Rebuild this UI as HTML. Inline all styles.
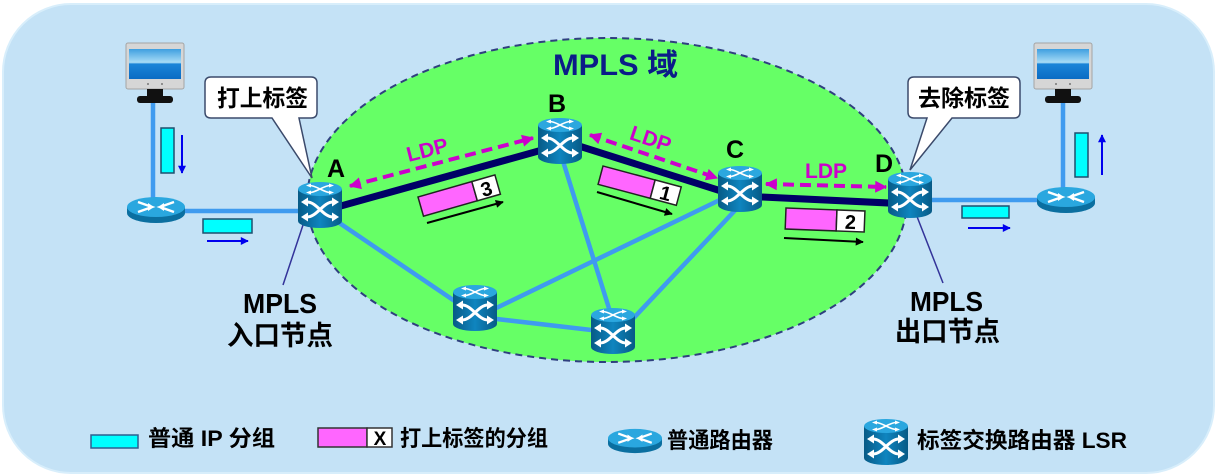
<!DOCTYPE html>
<html><head><meta charset="utf-8"><style>
html,body{margin:0;padding:0;background:#fff;}
svg{display:block;}
text{font-family:"Liberation Sans","Noto Sans CJK SC",sans-serif;font-weight:bold;}
</style></head><body>
<svg width="1217" height="476" viewBox="0 0 1217 476" xmlns="http://www.w3.org/2000/svg">
<defs>
 <linearGradient id="gb" x1="0" x2="1" y1="0" y2="0">
  <stop offset="0" stop-color="#075a86"/><stop offset="0.5" stop-color="#0f85bf"/><stop offset="1" stop-color="#075a86"/>
 </linearGradient>
 <linearGradient id="scr" x1="0" x2="0" y1="0" y2="1">
  <stop offset="0" stop-color="#3f9fe0"/><stop offset="0.45" stop-color="#a8dcf6"/><stop offset="0.5" stop-color="#1a84d8"/><stop offset="1" stop-color="#0b6cc4"/>
 </linearGradient>
 <marker id="mg" viewBox="0 0 10 10" refX="9" refY="5" markerWidth="13" markerHeight="12" markerUnits="userSpaceOnUse" orient="auto-start-reverse"><path d="M0,0 L10,5 L0,10 z" fill="#cc00cc"/></marker>
 <marker id="mb" viewBox="0 0 10 10" refX="9" refY="5" markerWidth="10" markerHeight="8" markerUnits="userSpaceOnUse" orient="auto"><path d="M0,0 L10,5 L0,10 z" fill="#0000ee"/></marker>
 <marker id="mk" viewBox="0 0 10 10" refX="9" refY="5" markerWidth="11" markerHeight="8" markerUnits="userSpaceOnUse" orient="auto"><path d="M0,0 L10,5 L0,10 z" fill="#000"/></marker>
 <symbol id="lsr" viewBox="0 0 44 46">
  <path d="M0,7 V39 A22,7 0 0 0 44,39 V7 Z" fill="url(#gb)"/>
  <ellipse cx="22" cy="7" rx="22" ry="7" fill="#2ba7df"/>
  <path d="M12,3.5 C18,3.5 26,10.5 32,10.5 M12,10.5 C18,10.5 26,3.5 32,3.5" stroke="#fff" stroke-width="1.6" fill="none"/>
  <path d="M8,3.5 L13,1.5 L13,5.5 Z M36,3.5 L31,1.5 L31,5.5 Z M8,10.5 L13,8.5 L13,12.5 Z M36,10.5 L31,8.5 L31,12.5 Z" fill="#fff"/>
  <path d="M9,20 C19,20 25,35 35,35 M9,35 C19,35 25,20 35,20" stroke="#fff" stroke-width="3" fill="none"/>
  <path d="M3,20 L10,15.5 L10,24.5 Z M41,20 L34,15.5 L34,24.5 Z M3,35 L10,30.5 L10,39.5 Z M41,35 L34,30.5 L34,39.5 Z" fill="#fff"/>
 </symbol>
 <symbol id="rt" viewBox="0 0 58 26">
  <path d="M0,10 V16 A29,10 0 0 0 58,16 V10 Z" fill="#0b6fa0"/>
  <ellipse cx="29" cy="10" rx="29" ry="10" fill="#2aa7df"/>
  <path d="M11,5 L25,10 L11,15 M47,5 L33,10 L47,15" stroke="#fff" stroke-width="2.4" fill="none"/>
  <path d="M27,10 L21,6 L21,14 Z M31,10 L37,6 L37,14 Z" fill="#fff"/>
 </symbol>
 <g id="pc">
  <rect x="0" y="0" width="58" height="46" rx="2" fill="#d6d6d6" stroke="#a4a4a4"/>
  <rect x="3" y="6" width="52" height="30" fill="url(#scr)"/>
  <circle cx="22" cy="41" r="1" fill="#777"/><circle cx="36" cy="41" r="1" fill="#777"/>
  <rect x="21" y="46" width="16" height="8" fill="#111"/>
  <rect x="11" y="53" width="36" height="7" rx="3" fill="#111"/>
 </g>
</defs>

<rect x="3" y="4" width="1211" height="469" rx="68" fill="#c4e2f6" stroke="#d8eefb" stroke-width="2"/>

<ellipse cx="607" cy="200" rx="300" ry="162" fill="#66ff66" stroke="#2f3f7f" stroke-width="2" stroke-dasharray="7,5"/>

<g stroke="#3f9bef" stroke-width="4.5" fill="none">
 <line x1="153" y1="100" x2="153" y2="200"/>
 <line x1="180" y1="211" x2="302" y2="211"/>
 <line x1="335" y1="220" x2="462" y2="306"/>
 <line x1="562" y1="158" x2="612" y2="318"/>
 <line x1="728" y1="196" x2="488" y2="312"/>
 <line x1="742" y1="203" x2="628" y2="324"/>
 <line x1="488" y1="318" x2="600" y2="331"/>
 <line x1="928" y1="200" x2="1042" y2="200"/>
 <line x1="1063" y1="100" x2="1063" y2="192"/>
</g>

<g stroke="#000066" stroke-width="7" fill="none" stroke-linecap="round">
 <line x1="330" y1="209" x2="560" y2="145"/>
 <line x1="560" y1="140" x2="740" y2="197"/>
 <line x1="740" y1="196" x2="910" y2="204"/>
</g>

<g stroke="#333399" stroke-width="1.5">
 <line x1="304" y1="222" x2="283" y2="285"/>
 <line x1="916" y1="214" x2="943" y2="283"/>
</g>

<use href="#lsr" x="298" y="182" width="44" height="46"/>
<use href="#lsr" x="538" y="118" width="44" height="46"/>
<use href="#lsr" x="718" y="166" width="44" height="46"/>
<use href="#lsr" x="888" y="172" width="44" height="46"/>
<use href="#lsr" x="453" y="285" width="44" height="46"/>
<use href="#lsr" x="591" y="308" width="44" height="46"/>
<use href="#rt" x="127" y="197" width="58" height="26"/>
<use href="#rt" x="1037" y="187" width="58" height="26"/>

<use href="#pc" x="126" y="43"/>
<use href="#pc" x="1034" y="43"/>

<g stroke="#cc00cc" stroke-width="4" stroke-dasharray="11,6" fill="none">
 <line x1="350" y1="186" x2="533" y2="138" marker-start="url(#mg)" marker-end="url(#mg)"/>
 <line x1="590" y1="135" x2="717" y2="178" marker-start="url(#mg)" marker-end="url(#mg)"/>
 <line x1="766" y1="184" x2="886" y2="187" marker-start="url(#mg)" marker-end="url(#mg)"/>
</g>
<g fill="#cc00cc" font-size="21" text-anchor="middle">
 <text transform="translate(427,149) rotate(-14.4)" x="0" y="8" textLength="42" lengthAdjust="spacingAndGlyphs">LDP</text>
 <text transform="translate(651,138) rotate(18.7)" x="0" y="8" textLength="42" lengthAdjust="spacingAndGlyphs">LDP</text>
 <text x="826" y="178" textLength="42" lengthAdjust="spacingAndGlyphs">LDP</text>
</g>

<g transform="translate(418,197) rotate(-16)" stroke="#222" stroke-width="1.5">
 <rect x="0" y="0" width="56" height="20" fill="#ff66ff"/>
 <rect x="56" y="0" width="24" height="20" fill="#fff"/>
 <text x="68" y="18" font-size="20" text-anchor="middle" fill="#000" stroke="none">3</text>
</g>
<line x1="427" y1="223" x2="503" y2="202" stroke="#000" stroke-width="2" marker-end="url(#mk)"/>
<g transform="translate(603,166) rotate(15)" stroke="#222" stroke-width="1.5">
 <rect x="0" y="0" width="54" height="19" fill="#ff66ff"/>
 <rect x="54" y="0" width="27" height="19" fill="#fff"/>
 <text x="67.5" y="17" font-size="20" text-anchor="middle" fill="#000" stroke="none">1</text>
</g>
<line x1="597" y1="192" x2="672" y2="214" stroke="#000" stroke-width="2" marker-end="url(#mk)"/>
<g transform="translate(786,208) rotate(2.2)" stroke="#222" stroke-width="1.5">
 <rect x="0" y="0" width="51" height="21" fill="#ff66ff"/>
 <rect x="51" y="0" width="28" height="21" fill="#fff"/>
 <text x="65" y="18.5" font-size="20" text-anchor="middle" fill="#000" stroke="none">2</text>
</g>
<line x1="784" y1="238" x2="863" y2="242" stroke="#000" stroke-width="2" marker-end="url(#mk)"/>

<g fill="#00ffff" stroke="#1f4f6f" stroke-width="1.5">
 <rect x="161" y="128" width="13" height="45"/>
 <rect x="203" y="219" width="49" height="14"/>
 <rect x="962" y="206" width="47" height="12"/>
 <rect x="1075" y="133" width="13" height="44"/>
</g>
<g stroke="#0000ee" stroke-width="2">
 <line x1="182" y1="135" x2="182" y2="173" marker-end="url(#mb)"/>
 <line x1="207" y1="241" x2="248" y2="241" marker-end="url(#mb)"/>
 <line x1="968" y1="228" x2="1010" y2="228" marker-end="url(#mb)"/>
 <line x1="1102" y1="175" x2="1102" y2="135" marker-end="url(#mb)"/>
</g>

<path d="M211,77 H311 Q317,77 317,83 V112 Q317,118 311,118 H299 L312,178 L272,118 H211 Q205,118 205,112 V83 Q205,77 211,77 Z" fill="#fff" stroke="#3b4a6b" stroke-width="1.5"/>
<path d="M914,77 H1014 Q1020,77 1020,83 V112 Q1020,118 1014,118 H952 L910,170 L927,118 H914 Q908,118 908,112 V83 Q908,77 914,77 Z" fill="#fff" stroke="#3b4a6b" stroke-width="1.5"/>
<text x="217" y="106" font-size="23" textLength="91" lengthAdjust="spacingAndGlyphs" fill="#000">打上标签</text>
<text x="918" y="106" font-size="23" textLength="92" lengthAdjust="spacingAndGlyphs" fill="#000">去除标签</text>

<text x="553" y="75" font-size="30" textLength="125" lengthAdjust="spacingAndGlyphs" fill="#0b1c88">MPLS 域</text>
<g font-size="25" fill="#000" text-anchor="middle">
 <text x="336" y="177">A</text>
 <text x="557" y="112">B</text>
 <text x="735" y="158">C</text>
 <text x="884" y="172">D</text>
</g>
<text x="243" y="313" font-size="28" textLength="74" lengthAdjust="spacingAndGlyphs" fill="#000">MPLS</text>
<text x="227" y="345" font-size="27" textLength="106" lengthAdjust="spacingAndGlyphs" fill="#000">入口节点</text>
<text x="910" y="311" font-size="28" textLength="73" lengthAdjust="spacingAndGlyphs" fill="#000">MPLS</text>
<text x="895" y="341" font-size="27" textLength="105" lengthAdjust="spacingAndGlyphs" fill="#000">出口节点</text>

<rect x="91" y="435" width="47" height="13" fill="#00ffff" stroke="#2f5f8f" stroke-width="1.5"/>
<text x="148" y="446" font-size="22" textLength="127" lengthAdjust="spacingAndGlyphs" fill="#000">普通 IP 分组</text>
<rect x="318" y="428" width="49" height="19" fill="#ff66ff" stroke="#333" stroke-width="1.5"/>
<rect x="367" y="428" width="25" height="19" fill="#fff" stroke="#333" stroke-width="1.5"/>
<text x="380" y="445" font-size="19" text-anchor="middle" fill="#000">X</text>
<text x="400" y="446" font-size="22" textLength="148" lengthAdjust="spacingAndGlyphs" fill="#000">打上标签的分组</text>
<use href="#rt" x="608" y="427" width="54" height="28"/>
<text x="667" y="448" font-size="22" textLength="106" lengthAdjust="spacingAndGlyphs" fill="#000">普通路由器</text>
<use href="#lsr" x="864" y="419" width="44" height="46"/>
<text x="917" y="448" font-size="22" textLength="210" lengthAdjust="spacingAndGlyphs" fill="#000">标签交换路由器 LSR</text>
</svg>
</body></html>
